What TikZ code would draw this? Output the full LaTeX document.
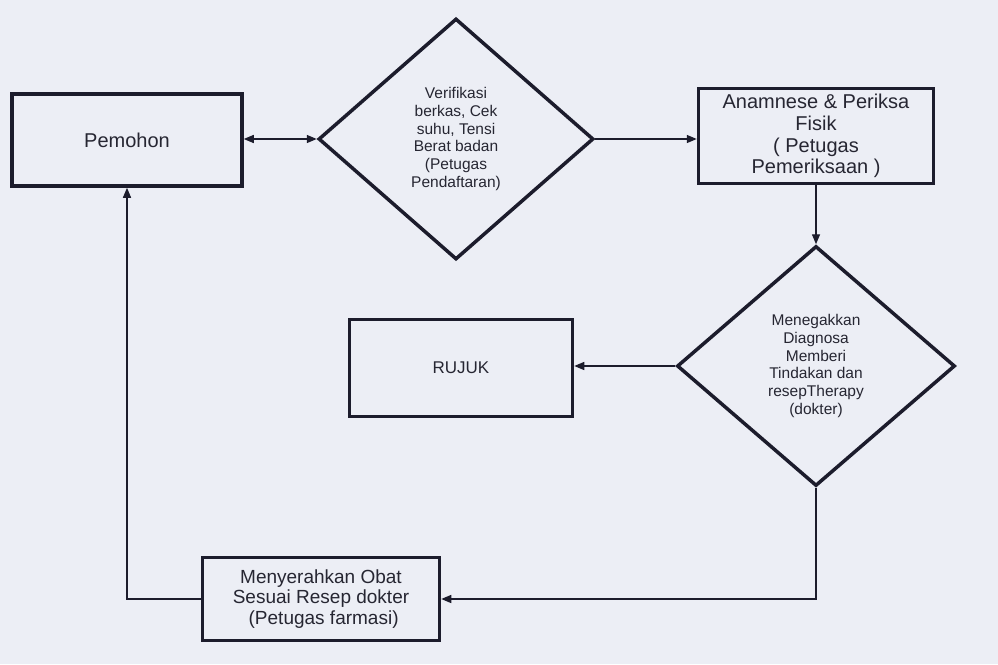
\documentclass[tikz,border=0pt]{standalone}
\usepackage{fontspec}
\setmainfont{Liberation Sans}
\usepackage{tikz}
\usetikzlibrary{shapes.geometric,arrows.meta}

\definecolor{paper}{RGB}{236,238,245}
\definecolor{ink}{RGB}{28,28,44}
\definecolor{txt}{RGB}{38,38,50}

\begin{document}
\begin{tikzpicture}[x=1pt,y=-1pt,
  box/.style={draw=ink, line width=3.5pt, rectangle, inner sep=0pt, align=center, text=txt},
  decision/.style={draw=ink, line width=3.5pt, diamond, inner sep=0pt, align=center, text=txt,
    font=\fontsize{15.5}{17.7}\selectfont},
  link/.style={draw=ink, line width=1.4pt, -{Triangle[length=10pt,width=8pt]}}]

\fill[paper] (0,0) rectangle (998,664);
\useasboundingbox (0,0) rectangle (998,664);

\node[box, minimum width=230, minimum height=92, font=\fontsize{20}{22}\selectfont] (pemohon) at (127,140) {Pemohon};
\node[decision, minimum width=275, minimum height=241] (verif) at (456,139) {Verifikasi\\berkas, Cek\\suhu, Tensi\\Berat badan\\(Petugas\\Pendaftaran)};
\node[box, minimum width=235, minimum height=95, font=\fontsize{20}{21.7}\selectfont] (anamnese) at (816,136) {Anamnese \& Periksa\\Fisik\\( Petugas\\Pemeriksaan )};
\node[decision, minimum width=278, minimum height=240] (diag) at (816,366) {Menegakkan\\Diagnosa\\Memberi\\Tindakan dan\\resepTherapy\\(dokter)};
\node[box, minimum width=223, minimum height=97, font=\fontsize{17}{20}\selectfont] (rujuk) at (461,368) {RUJUK};
\node[box, minimum width=237, minimum height=83, font=\fontsize{19}{20.5}\selectfont] (obat) at (321,599) {Menyerahkan Obat\\Sesuai Resep dokter\\\ (Petugas farmasi)};

\draw[link, {Triangle[length=10pt,width=8pt]}-{Triangle[length=10pt,width=8pt]}] (pemohon.east |- verif.west) -- (verif.west);
\draw[link] (verif.east) -- (verif.east -| anamnese.west);
\draw[link] (anamnese.south) -- (diag.north);
\draw[link] (diag.west) -- (diag.west -| rujuk.east);
\draw[link] (diag.south) |- (obat.east);
\draw[link] (obat.west) -| (pemohon.south);
\end{tikzpicture}
\end{document}
